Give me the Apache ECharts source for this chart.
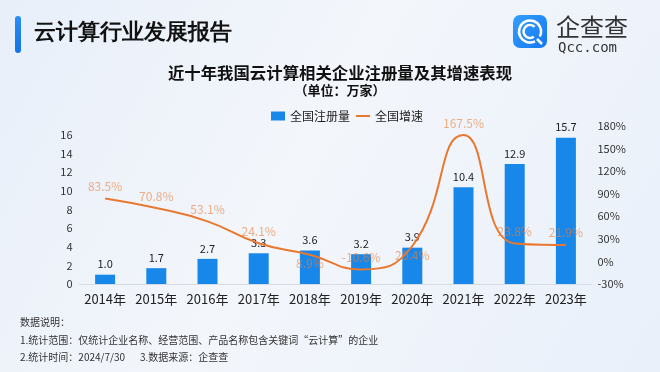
<!DOCTYPE html>
<html>
<head>
<meta charset="utf-8">
<script src="https://cdn.jsdelivr.net/npm/echarts@6/dist/echarts.min.js"></script>
<style>html,body{margin:0;padding:0;}#c{width:660px;height:372px;}</style>
</head>
<body>
<div id="c"></div>
<script>
const categories = ['2014年','2015年','2016年','2017年','2018年','2019年','2020年','2021年','2022年','2023年'];
const registrations = [1.0, 1.7, 2.7, 3.3, 3.6, 3.2, 3.9, 10.4, 12.9, 15.7];
const growthRates = [83.5, 70.8, 53.1, 24.1, 8.9, -10.6, 20.4, 167.5, 23.8, 21.9];
const leftTicks = [0, 2, 4, 6, 8, 10, 12, 14, 16];
const rightTicks = [-30, 0, 30, 60, 90, 120, 150, 180];

const FONT = '"Noto Sans CJK SC", "Noto Sans", sans-serif';
const belowLabelIdx = [4, 6];

const chart = echarts.init(document.getElementById('c'), null, {renderer: 'canvas'});
const option = {
  backgroundColor: {
    type: 'linear', x: 0, y: 0, x2: 1, y2: 1,
    colorStops: [
      {offset: 0, color: '#e8eff9'},
      {offset: 0.45, color: '#f3f6fb'},
      {offset: 1, color: '#e9f0fa'}
    ]
  },
  textStyle: {fontFamily: FONT},
  legend: {
    left: 266, top: 105, itemWidth: 14, itemHeight: 9, itemGap: 6,
    textStyle: {fontSize: 12, color: '#222', fontFamily: FONT},
    data: [
      {name: '全国注册量', icon: 'rect'},
      {name: '全国增速', icon: 'path://M0,0 L14,0 L14,2 L0,2 Z', itemStyle: {color: '#e8782f', opacity: 1}}
    ]
  },
  grid: {left: 79.5, right: 68.5, top: 125.7, bottom: 88, containLabel: false, outerBoundsMode: 'none'},
  xAxis: {
    type: 'category', data: categories,
    axisLine: {lineStyle: {color: '#d6dce6'}},
    axisTick: {show: false},
    axisLabel: {color: '#222', fontSize: 13, margin: 9, interval: 0, fontFamily: FONT}
  },
  yAxis: [
    {type: 'value', min: 0, max: 17, interval: 2,
     splitLine: {show: false}, axisLine: {show: false}, axisTick: {show: false},
     axisLabel: {color: '#333', fontSize: 11, margin: 7,
       formatter: v => leftTicks.includes(v) ? String(v) : ''}},
    {type: 'value', min: -30, max: 180, interval: 30,
     splitLine: {show: false}, axisLine: {show: false}, axisTick: {show: false},
     axisLabel: {color: '#333', fontSize: 11, margin: 6,
       formatter: v => rightTicks.includes(v) ? v + '%' : ''}}
  ],
  series: [
    {
      name: '全国注册量', type: 'bar', data: registrations, barWidth: 20,
      itemStyle: {color: '#1787e9'},
      label: {show: true, position: 'top', distance: 5, color: '#222', fontSize: 11,
        formatter: p => p.value.toFixed(1)},
      z: 2
    },
    {
      name: '全国增速', type: 'line', yAxisIndex: 1, smooth: true,
      symbol: 'circle', symbolSize: 2, showSymbol: true,
      data: growthRates.map((v, i) => belowLabelIdx.includes(i)
        ? {value: v, label: {position: 'bottom', distance: 2}}
        : v),
      lineStyle: {color: '#e8782f', width: 2},
      itemStyle: {color: 'rgba(232,120,47,0)', borderWidth: 0},
      label: {show: true, position: 'top', distance: 5, fontSize: 12,
        color: 'rgba(234,128,60,0.62)', formatter: p => p.value + '%'},
      labelLayout: {hideOverlap: false},
      z: 3
    }
  ],
  graphic: [
    {type: 'text', x: 340, y: 73,
     style: {text: '近十年我国云计算相关企业注册量及其增速表现', font: 'bold 16.4px ' + FONT,
       fill: '#111', align: 'center', verticalAlign: 'middle'}},
    {type: 'text', x: 340, y: 90,
     style: {text: '（单位：万家）', font: 'bold 13px ' + FONT,
       fill: '#111', align: 'center', verticalAlign: 'middle'}},
    {type: 'rect', shape: {x: 15, y: 16, width: 6, height: 37, r: 3},
     style: {fill: {type: 'linear', x: 0, y: 0, x2: 0, y2: 1,
       colorStops: [{offset: 0, color: '#2a8cf5'}, {offset: 1, color: '#1473e6'}]}}},
    {type: 'text', left: 34, top: 22,
     style: {text: '云计算行业发展报告', fontSize: 22, fontWeight: 'bold', fill: '#111', font: 'bold 22px ' + FONT}},
    {type: 'rect', shape: {x: 513, y: 15, width: 34, height: 33, r: 7},
     style: {fill: {type: 'linear', x: 0, y: 0, x2: 1, y2: 1,
       colorStops: [{offset: 0, color: '#33a0ff'}, {offset: 1, color: '#1577f0'}]}}},
    {type: 'arc', shape: {cx: 530, cy: 31.5, r: 11, startAngle: Math.PI * 0.35, endAngle: Math.PI * 2.15},
     style: {stroke: '#fff', lineWidth: 2.5, fill: null}},
    {type: 'arc', shape: {cx: 530, cy: 31.5, r: 6.5, startAngle: Math.PI * 0.3, endAngle: Math.PI * 1.75},
     style: {stroke: '#fff', lineWidth: 2.5, fill: null}},
    {type: 'line', shape: {x1: 537, y1: 39, x2: 542, y2: 44},
     style: {stroke: '#fff', lineWidth: 2.5}},
    {type: 'text', left: 556, top: 15,
     style: {text: '企查查', font: '24px ' + FONT, fill: '#333'}},
    {type: 'text', left: 558, top: 41,
     style: {text: 'Qcc.com', font: '14px "DejaVu Sans Mono", monospace', fill: '#333'}},
    {type: 'text', left: 20, top: 317,
     style: {text: '数据说明：', font: '10px ' + FONT, fill: '#333'}},
    {type: 'text', left: 20, top: 335,
     style: {text: '1.统计范围：仅统计企业名称、经营范围、产品名称包含关键词“云计算”的企业', font: '10px ' + FONT, fill: '#333'}},
    {type: 'text', left: 20, top: 352,
     style: {text: '2.统计时间：2024/7/30', font: '10px ' + FONT, fill: '#333'}},
    {type: 'text', left: 140, top: 352,
     style: {text: '3.数据来源：企查查', font: '10px ' + FONT, fill: '#333'}}
  ]
};
chart.setOption(option);
</script>
</body>
</html>
